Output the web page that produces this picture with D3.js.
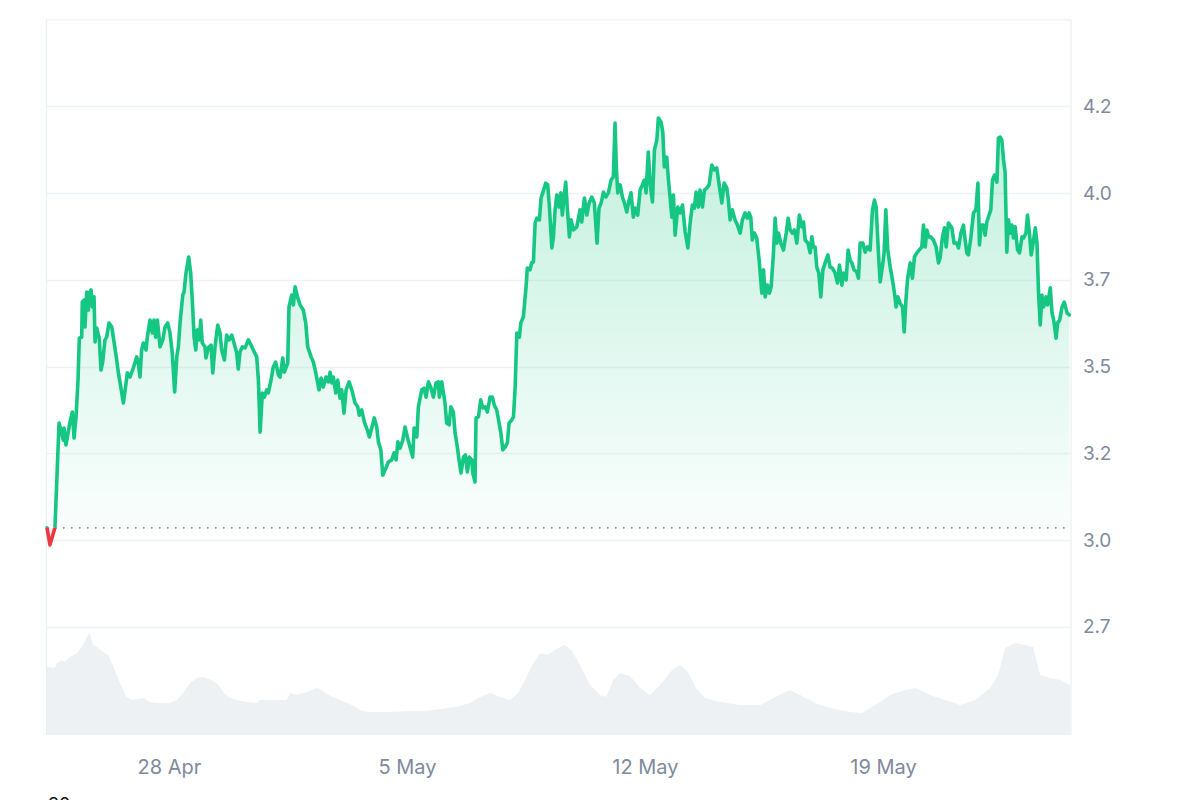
<!DOCTYPE html>
<html>
<head>
<meta charset="utf-8">
<script src="https://cdn.jsdelivr.net/npm/d3@7"></script>
<style>
  html, body { margin: 0; padding: 0; background: #ffffff; }
  svg { display: block; font-family: Inter, "Noto Sans", Arial, sans-serif; }
</style>
</head>
<body>
<svg id="chart" width="1200" height="800"></svg>
<script>
// ---------------- DATA ----------------
const startTime = Date.UTC(2025, 3, 24, 10, 0); // 24 Apr, 10:00
const spanHours = 722;
const basePrice = 3.035; // opening price (dotted reference line)

// [hours since start, price]
const pricePoints = [[0,3.035],[2.1,2.986],[5.6,3.035],[8.5,3.337],[10.4,3.309],[11.5,3.288],[12.0,3.323],[13.4,3.274],[16.2,3.340],[17.9,3.369],[19.1,3.294],[20.5,3.355],[21.9,3.461],[22.8,3.582],[24.5,3.585],[24.9,3.686],[26.3,3.692],[26.8,3.614],[28.0,3.715],[29.2,3.663],[29.9,3.712],[31.1,3.721],[32.0,3.672],[33.2,3.701],[33.9,3.571],[35.1,3.611],[36.9,3.582],[38.1,3.490],[39.3,3.513],[40.9,3.577],[42.1,3.585],[43.8,3.626],[45.7,3.614],[46.8,3.585],[49.2,3.519],[50.3,3.484],[52.2,3.438],[53.9,3.395],[55.8,3.453],[56.7,3.482],[58.6,3.470],[60.9,3.496],[63.3,3.528],[64.4,3.513],[65.6,3.470],[66.8,3.548],[68.0,3.568],[69.9,3.548],[70.8,3.585],[72.7,3.634],[74.3,3.597],[75.5,3.634],[76.7,3.585],[77.9,3.634],[79.8,3.557],[81.7,3.577],[83.3,3.614],[85.2,3.626],[86.8,3.597],[88.4,3.539],[90.1,3.427],[91.6,3.528],[92.7,3.557],[93.9,3.626],[95.8,3.706],[96.7,3.715],[98.1,3.770],[100.0,3.816],[101.4,3.770],[102.8,3.672],[103.8,3.585],[105.0,3.548],[106.1,3.606],[107.5,3.577],[108.5,3.634],[109.6,3.568],[111.5,3.557],[112.2,3.525],[113.9,3.554],[115.8,3.562],[117.0,3.482],[118.6,3.557],[120.5,3.620],[122.1,3.597],[123.3,3.548],[125.2,3.519],[126.8,3.591],[128.5,3.577],[130.4,3.591],[132.0,3.568],[133.9,3.539],[135.0,3.493],[136.2,3.542],[137.9,3.557],[139.8,3.554],[142.1,3.577],[144.0,3.562],[145.6,3.548],[148.0,3.528],[149.2,3.461],[150.4,3.311],[152.0,3.424],[153.4,3.412],[155.1,3.433],[156.2,3.424],[158.1,3.461],[159.7,3.499],[161.4,3.513],[163.3,3.476],[164.5,3.470],[166.4,3.525],[167.5,3.484],[169.9,3.510],[170.8,3.672],[172.7,3.706],[173.9,3.678],[175.1,3.730],[177.0,3.698],[178.6,3.678],[180.9,3.663],[182.6,3.626],[184.0,3.557],[186.4,3.528],[188.0,3.513],[189.7,3.482],[192.0,3.433],[193.4,3.467],[195.0,3.441],[196.9,3.470],[198.6,3.456],[199.8,3.484],[201.0,3.453],[202.1,3.470],[203.8,3.424],[205.2,3.461],[206.8,3.409],[208.0,3.433],[209.6,3.366],[211.1,3.433],[213.2,3.456],[215.1,3.433],[217.4,3.395],[219.3,3.384],[220.4,3.360],[222.1,3.375],[224.0,3.340],[226.1,3.317],[227.5,3.297],[229.2,3.323],[231.0,3.352],[232.7,3.326],[233.9,3.283],[235.6,3.260],[237.0,3.187],[238.6,3.202],[240.9,3.225],[243.3,3.231],[244.9,3.251],[246.4,3.231],[247.6,3.283],[249.2,3.265],[251.1,3.288],[252.7,3.326],[254.3,3.297],[256.2,3.268],[258.1,3.239],[259.1,3.323],[261.0,3.297],[262.1,3.384],[264.5,3.433],[266.1,3.438],[267.5,3.412],[269.2,3.456],[270.8,3.441],[272.7,3.412],[274.6,3.453],[276.2,3.456],[276.9,3.412],[278.6,3.456],[279.7,3.427],[280.9,3.395],[282.1,3.337],[283.8,3.332],[285.0,3.384],[286.8,3.369],[288.0,3.309],[289.6,3.268],[291.1,3.222],[292.2,3.193],[293.9,3.239],[295.3,3.245],[296.7,3.196],[298.1,3.239],[299.8,3.231],[300.5,3.193],[302.1,3.167],[302.8,3.352],[304.5,3.355],[306.1,3.404],[307.6,3.381],[309.2,3.384],[310.8,3.369],[312.7,3.412],[314.3,3.412],[315.7,3.389],[317.4,3.375],[319.1,3.337],[320.3,3.309],[321.7,3.260],[323.3,3.268],[324.9,3.280],[326.1,3.337],[328.0,3.346],[329.2,3.355],[330.4,3.441],[331.6,3.597],[333.4,3.585],[334.4,3.626],[336.2,3.643],[338.1,3.730],[339.0,3.784],[340.9,3.779],[342.1,3.799],[343.3,3.802],[344.5,3.914],[345.7,3.928],[347.5,3.923],[348.7,3.986],[349.9,4.001],[352.0,4.029],[353.4,4.024],[354.6,3.960],[356.3,3.842],[357.4,3.874],[358.6,3.952],[359.8,3.995],[361.4,3.960],[362.6,4.001],[363.7,3.937],[364.9,3.989],[366.1,4.032],[367.3,3.952],[368.7,3.874],[369.9,3.923],[371.5,3.894],[373.9,3.903],[376.2,3.952],[377.4,3.917],[379.3,3.986],[381.0,3.937],[382.6,3.972],[384.5,3.989],[386.3,3.972],[388.2,3.856],[389.6,3.957],[391.1,3.972],[392.7,4.003],[394.4,3.989],[396.2,4.001],[398.1,4.038],[399.7,4.047],[400.9,4.202],[401.8,4.076],[402.8,4.001],[404.5,4.024],[406.1,3.989],[407.5,3.972],[409.2,3.946],[410.8,3.980],[412.2,4.001],[413.8,3.931],[415.0,3.957],[416.9,3.937],[418.6,4.009],[420.2,4.024],[421.6,4.038],[422.8,4.001],[424.4,4.119],[425.6,4.029],[427.3,3.975],[428.7,4.125],[430.4,4.153],[431.5,4.217],[433.4,4.205],[434.6,4.176],[435.7,4.076],[437.4,4.104],[438.6,4.038],[439.8,3.986],[441.0,3.931],[442.1,3.995],[443.3,3.879],[445.2,3.960],[446.8,3.943],[448.5,3.966],[450.4,3.888],[452.3,3.842],[453.9,3.914],[455.5,3.966],[456.9,3.957],[458.1,4.003],[459.7,3.960],[460.9,4.009],[462.6,3.960],[464.0,4.009],[465.7,4.015],[467.3,4.024],[469.2,4.081],[471.0,4.067],[472.7,4.073],[474.4,4.024],[476.3,3.972],[477.9,4.029],[479.8,4.015],[480.9,3.980],[482.1,3.923],[483.7,3.952],[485.6,3.923],[487.3,3.908],[489.2,3.885],[490.8,3.923],[492.7,3.943],[494.3,3.928],[495.5,3.943],[496.7,3.931],[497.8,3.865],[499.2,3.885],[500.9,3.871],[502.6,3.807],[504.5,3.712],[505.7,3.779],[506.9,3.701],[508.5,3.735],[509.9,3.712],[511.1,3.730],[512.7,3.828],[513.9,3.928],[515.1,3.856],[516.3,3.885],[517.9,3.856],[519.8,3.836],[521.7,3.885],[523.1,3.928],[524.5,3.894],[526.1,3.885],[527.5,3.894],[529.2,3.856],[531.0,3.937],[532.7,3.903],[533.9,3.917],[535.1,3.865],[537.0,3.856],[538.6,3.828],[539.8,3.874],[540.9,3.845],[542.1,3.845],[543.3,3.787],[544.7,3.770],[546.1,3.701],[547.6,3.779],[549.2,3.799],[551.1,3.822],[552.7,3.787],[554.3,3.784],[556.2,3.770],[557.9,3.741],[559.3,3.793],[561.0,3.735],[562.1,3.770],[564.0,3.750],[565.4,3.836],[566.8,3.807],[568.0,3.799],[569.6,3.779],[571.5,3.773],[572.7,3.755],[573.9,3.856],[575.8,3.856],[577.4,3.830],[579.0,3.845],[580.9,3.836],[582.6,3.952],[584.0,3.980],[585.2,3.960],[586.8,3.828],[588.0,3.744],[589.6,3.787],[590.8,3.828],[592.0,3.952],[593.4,3.836],[595.1,3.787],[596.7,3.750],[598.1,3.712],[599.3,3.672],[600.5,3.701],[602.1,3.683],[603.8,3.672],[605.0,3.600],[606.2,3.692],[607.3,3.750],[609.2,3.799],[610.8,3.755],[612.2,3.816],[613.9,3.828],[615.5,3.836],[617.4,3.845],[618.6,3.908],[619.8,3.845],[621.0,3.894],[622.2,3.874],[623.8,3.874],[625.6,3.865],[627.5,3.845],[629.2,3.799],[630.3,3.813],[632.0,3.874],[633.4,3.900],[634.6,3.845],[636.2,3.914],[638.6,3.900],[640.2,3.856],[642.1,3.856],[643.3,3.842],[645.0,3.885],[646.8,3.908],[648.0,3.865],[649.2,3.828],[650.3,3.822],[652.0,3.871],[653.9,3.943],[655.6,3.952],[657.0,4.029],[658.1,3.851],[659.3,3.908],[660.9,3.908],[662.1,3.879],[663.3,3.917],[664.9,3.937],[666.1,3.952],[667.3,4.038],[668.7,4.052],[670.4,4.032],[671.5,4.159],[672.7,4.162],[673.9,4.153],[675.1,4.096],[676.2,4.061],[677.4,3.830],[678.6,3.923],[679.8,3.885],[681.0,3.908],[682.1,3.871],[683.3,3.903],[685.0,3.836],[686.4,3.828],[688.1,3.874],[689.2,3.871],[690.9,3.885],[692.0,3.937],[693.4,3.885],[694.6,3.822],[696.3,3.865],[697.5,3.900],[698.7,3.856],[699.8,3.712],[701.0,3.620],[702.2,3.706],[703.4,3.672],[705.1,3.701],[706.2,3.678],[708.1,3.727],[709.3,3.655],[710.5,3.634],[712.2,3.582],[713.3,3.626],[714.7,3.634],[716.4,3.672],[718.0,3.686],[719.9,3.655],[721.5,3.649]];

// [hours since start, volume (M)]
const volumePoints = [[0,68],[5.6,67],[6.8,72],[10.4,75],[12.7,73],[16.2,78],[21.0,82],[24.5,88],[28.0,98],[29.9,102],[32.7,90],[36.2,87],[39.7,83],[43.3,80],[45.7,72],[49.2,60],[52.7,48],[56.3,38],[59.8,35],[68.0,37],[72.7,33],[78.6,32],[86.8,32],[91.6,35],[96.2,42],[100.9,52],[105.7,57],[110.3,58],[116.3,55],[120.9,50],[124.4,43],[128.0,38],[133.9,35],[141.0,33],[148.0,32],[150.4,35],[157.4,35],[169.2,35],[171.5,42],[176.3,40],[183.3,43],[190.4,47],[193.9,45],[198.6,40],[206.8,35],[215.3,30],[222.4,24],[228.0,23],[242.1,23],[256.2,24],[266.8,24],[277.4,26],[288.0,28],[298.6,32],[305.6,38],[312.7,42],[319.8,38],[326.8,35],[332.5,42],[337.4,55],[342.4,70],[348.0,82],[353.6,80],[359.3,86],[365.6,90],[370.6,84],[376.2,70],[383.3,50],[390.4,40],[394.6,38],[399.5,55],[404.5,62],[411.5,59],[418.6,47],[425.6,40],[432.7,50],[441.2,65],[446.8,70],[452.5,63],[458.1,47],[464.5,37],[475.1,33],[489.2,30],[503.3,30],[513.9,38],[524.5,45],[531.5,40],[542.1,32],[552.7,27],[566.8,23],[575.3,22],[584.5,30],[595.1,40],[605.6,45],[612.7,47],[623.3,40],[633.9,35],[644.5,30],[655.1,35],[665.6,47],[671.3,60],[676.2,87],[683.3,92],[690.4,90],[696.0,88],[701.0,60],[708.0,57],[715.1,55],[722,50]];

const yTickValues = [2.75, 3.0, 3.25, 3.5, 3.75, 4.0, 4.25];
const yTickLabels = ["2.7", "3.0", "3.2", "3.5", "3.7", "4.0", "4.2"];
const xTickDates = [Date.UTC(2025,3,28), Date.UTC(2025,4,5), Date.UTC(2025,4,12), Date.UTC(2025,4,19)];
const bottomNote = "30";

// ---------------- CHART ----------------
(function () {
const svg = d3.select("#chart");
const pLeft = 47, pRight = 1070, pTop = 19.8, priceBottom = 540, volBottom = 735;
const hourMs = 3600e3;
const toDate = h => new Date(startTime + h * hourMs);

const x = d3.scaleUtc().domain([toDate(0), toDate(spanHours)]).range([pLeft, pRight]);
const y = d3.scaleLinear().domain([3.0, 4.5]).range([priceBottom, pTop]);
const yv = d3.scaleLinear().domain([0, 108]).range([volBottom, 627]);

const price = pricePoints.map(d => ({ t: toDate(d[0]), v: d[1] }));
const volume = volumePoints.map(d => ({ t: toDate(d[0]), v: d[1] }));

const defs = svg.append("defs");
const baseY = y(basePrice);

const gGreen = defs.append("linearGradient").attr("id", "gfill")
  .attr("gradientUnits", "userSpaceOnUse").attr("x1", 0).attr("x2", 0)
  .attr("y1", y(4.22)).attr("y2", baseY);
gGreen.append("stop").attr("offset", 0).attr("stop-color", "#16c784").attr("stop-opacity", 0.27);
gGreen.append("stop").attr("offset", 1).attr("stop-color", "#16c784").attr("stop-opacity", 0.02);

defs.append("clipPath").attr("id", "above").append("rect")
  .attr("x", 0).attr("y", 0).attr("width", 1200).attr("height", baseY);
defs.append("clipPath").attr("id", "below").append("rect")
  .attr("x", 0).attr("y", baseY).attr("width", 1200).attr("height", 800 - baseY);

// frame lines
const frame = svg.append("g").attr("stroke", "#eceff2").attr("stroke-width", 1.2).attr("fill", "none");
frame.append("line").attr("x1", pLeft - 0.5).attr("x2", pLeft - 0.5).attr("y1", pTop).attr("y2", volBottom);
frame.append("line").attr("x1", pRight + 1).attr("x2", pRight + 1).attr("y1", pTop).attr("y2", volBottom);
frame.append("line").attr("x1", pLeft - 0.5).attr("x2", pRight + 1).attr("y1", y(4.5)).attr("y2", y(4.5));

// grid lines
svg.append("g").selectAll("line").data(yTickValues).join("line")
  .attr("x1", pLeft).attr("x2", pRight + 1)
  .attr("y1", d => Math.round(y(d)) + 0.5).attr("y2", d => Math.round(y(d)) + 0.5)
  .attr("stroke", "#eff2f5").attr("stroke-width", 1.5);

// volume
svg.append("path").datum(volume)
  .attr("d", d3.area().x(d => x(d.t)).y0(volBottom).y1(d => yv(d.v)))
  .attr("fill", "#eef1f4");

// price area
const area = d3.area().x(d => x(d.t)).y0(baseY).y1(d => y(d.v));
svg.append("path").datum(price).attr("d", area)
  .attr("fill", "url(#gfill)").attr("clip-path", "url(#above)");
svg.append("path").datum(price).attr("d", area)
  .attr("fill", "#ea3943").attr("fill-opacity", 0.08).attr("clip-path", "url(#below)");

// baseline dotted
svg.append("line").attr("x1", pLeft).attr("x2", pRight)
  .attr("y1", baseY).attr("y2", baseY)
  .attr("stroke", "#8a919e").attr("stroke-width", 1.6).attr("stroke-dasharray", "1.6,6.4");

// price line
const line = d3.line().x(d => x(d.t)).y(d => y(d.v));
svg.append("path").datum(price).attr("d", line)
  .attr("fill", "none").attr("stroke", "#16c784").attr("stroke-width", 3.6)
  .attr("stroke-linejoin", "round").attr("stroke-linecap", "round")
  .attr("clip-path", "url(#above)");
svg.append("path").datum(price).attr("d", line)
  .attr("fill", "none").attr("stroke", "#ea3943").attr("stroke-width", 3.6)
  .attr("stroke-linejoin", "round").attr("stroke-linecap", "round")
  .attr("clip-path", "url(#below)");

// y axis (right)
const yAxis = d3.axisRight(y).tickValues(yTickValues)
  .tickFormat((d, i) => yTickLabels[i]).tickSize(0).tickPadding(12);
const ya = svg.append("g").attr("transform", `translate(${pRight + 1},0)`).call(yAxis);
ya.select(".domain").remove();
ya.selectAll("text").attr("fill", "#808a9d").attr("font-size", 19).attr("font-family", "Inter, Arial, sans-serif");

// x axis
const fmt = d3.utcFormat("%-d %b");
const xAxis = d3.axisBottom(x).tickValues(xTickDates.map(d => new Date(d)))
  .tickFormat(fmt).tickSize(0).tickPadding(0);
const xa = svg.append("g").attr("transform", `translate(0,760)`).call(xAxis);
xa.select(".domain").remove();
xa.selectAll("text").attr("fill", "#808a9d").attr("font-size", 20).attr("font-family", "Inter, Arial, sans-serif")
  .attr("dy", "0.95em").attr("y", -5);

// bottom note (partially cut off at the bottom edge, as in the source)
svg.append("text").attr("x", pLeft + 1).attr("y", 811)
  .attr("fill", "#111").attr("font-size", 18).attr("font-family", "Inter, Arial, sans-serif")
  .text(bottomNote);
})();
</script>
</body>
</html>
